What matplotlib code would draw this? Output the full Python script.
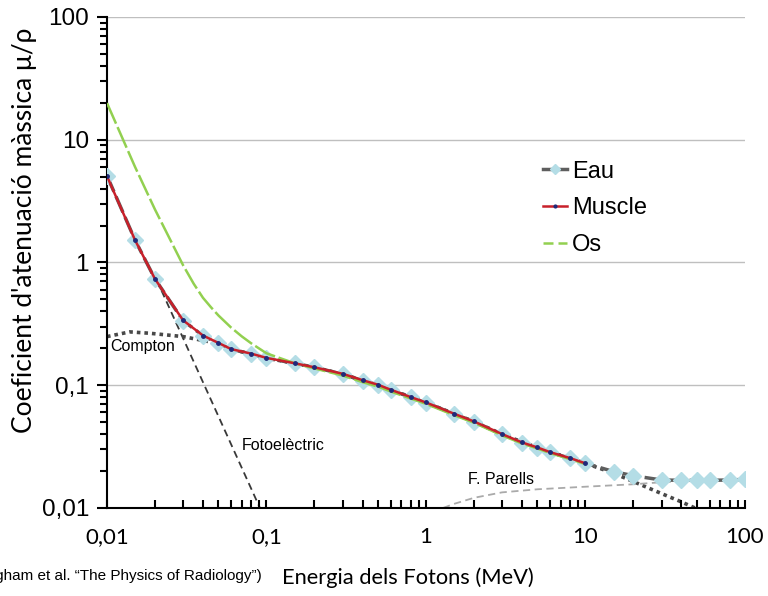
import numpy as np
import matplotlib
matplotlib.use("Agg")
import matplotlib.pyplot as plt
from matplotlib.lines import Line2D

plt.rcParams['font.family'] = ['Liberation Sans', 'DejaVu Sans']

# energies (MeV) of the tabulated points
energia = [0.01, 0.015, 0.02, 0.03, 0.04, 0.05, 0.06, 0.08, 0.1, 0.15, 0.2, 0.3,
           0.4, 0.5, 0.6, 0.8, 1, 1.5, 2, 3, 4, 5, 6, 8, 10, 15, 20, 30, 40,
           50, 60, 80, 100]
eau = [5.09, 1.52, 0.734, 0.336, 0.253, 0.220, 0.196, 0.180, 0.166, 0.151, 0.140,
       0.123, 0.109, 0.1005, 0.0915, 0.0798, 0.0721, 0.0583, 0.0505, 0.0398,
       0.0340, 0.0310, 0.0284, 0.0254, 0.0231, 0.0198, 0.0183, 0.0169, 0.0168,
       0.0168, 0.0168, 0.0169, 0.0171]

energia_muscle = energia[:25]
muscle = [5.05, 1.52, 0.734, 0.338, 0.254, 0.221, 0.197, 0.181, 0.167, 0.151, 0.140,
          0.124, 0.110, 0.101, 0.092, 0.0802, 0.0724, 0.0586, 0.0507, 0.0400,
          0.0342, 0.0311, 0.0285, 0.0255, 0.0231]

energia_os = [0.01, 0.015, 0.02, 0.03, 0.035, 0.04, 0.045, 0.05, 0.06, 0.07, 0.08,
              0.1, 0.15, 0.2, 0.3, 0.4, 0.5, 0.6, 0.8, 1, 1.5, 2, 3, 4, 5, 6, 8, 10]
os_ = [19.9, 6.0, 2.7, 0.95, 0.67, 0.515, 0.43, 0.37, 0.295, 0.25, 0.22,
       0.182, 0.151, 0.137, 0.120, 0.106, 0.0975, 0.089, 0.078, 0.0705, 0.057,
       0.0495, 0.039, 0.0335, 0.0305, 0.028, 0.025, 0.0228]

# individual interaction components
energia_foto = [0.0205, 0.091]
foto = [0.72, 0.01]

energia_compton = [0.01, 0.0139, 0.0186, 0.03, 0.0488, 0.06, 0.08, 0.1, 0.15, 0.2,
                   0.3, 0.5, 1, 2, 3, 5, 10, 15, 20, 30, 40, 48.6]
compton = [0.249, 0.272, 0.265, 0.249, 0.22, 0.196, 0.180, 0.166, 0.151, 0.140,
           0.123, 0.1005, 0.0721, 0.0505, 0.0398, 0.0310, 0.0231, 0.0192, 0.0164,
           0.0131, 0.0112, 0.0100]

energia_parells = [1.28, 1.5, 2, 3, 5, 10, 20, 30, 50]
parells = [0.0100, 0.0108, 0.0121, 0.0134, 0.0142, 0.0149, 0.0156, 0.0162, 0.0167]

xticks = [0.01, 0.1, 1, 10, 100]
xlabels = ['0,01', '0,1', '1', '10', '100']
yticks = [0.01, 0.1, 1, 10, 100]
ylabels = ['0,01', '0,1', '1', '10', '100']

fig = plt.figure(figsize=(7.68, 5.96), dpi=100)
ax = fig.add_axes([0.1393, 0.1477, 0.8307, 0.8238])
ax.set_xscale('log')
ax.set_yscale('log')
ax.set_xlim(0.01, 100)
ax.set_ylim(0.01, 100)

for v in [0.1, 1, 10, 100]:
    ax.axhline(v, color='#bfbfbf', lw=1, zorder=0)

ax.plot(energia_foto, foto, color='#383838', ls=(0, (4, 2.5)), lw=1.3, zorder=1)
ax.plot(energia_compton, compton, color='#484848', ls=(0, (1, 1.1)), lw=2.6, zorder=1)
ax.plot(energia_parells, parells, color='#aaaaaa', ls=(0, (4, 2.5)), lw=1.3, zorder=1)

ax.plot(energia, eau, color='#5e5e5e', ls=(0, (5, 1.5)), lw=2.5, marker='D',
        ms=8, mfc='#b4dde6', mec='#b4dde6', zorder=3)
ax.plot(energia_os, os_, color='#92d050', ls=(0, (9, 1.5)), lw=1.8, zorder=4)
ax.plot(energia_muscle, muscle, color='#c8202a', lw=1.8, marker='o', ms=2.5,
        mfc='#1f2a7a', mec='#1f2a7a', zorder=5)

ax.text(0.01044, 0.205, 'Compton', fontsize=11.5, va='center', zorder=6)
ax.text(0.0699, 0.0322, 'Fotoelèctric', fontsize=11.5, va='center')
ax.text(1.84, 0.0169, 'F. Parells', fontsize=11.5, va='center')

for s in ['top', 'right']:
    ax.spines[s].set_visible(False)
for s in ['left', 'bottom']:
    ax.spines[s].set_linewidth(1.5)
    ax.spines[s].set_color('black')

ax.set_xticks(xticks)
ax.set_xticklabels(xlabels, family='Lato')
ax.set_yticks(yticks)
ax.set_yticklabels(ylabels)
ax.tick_params(axis='x', which='both', direction='in', length=6, width=1.5,
               labelsize=16, pad=14)
ax.tick_params(axis='y', which='major', direction='out', length=7, width=1.5,
               labelsize=17.5, pad=6)
ax.tick_params(axis='y', which='minor', direction='out', length=5, width=1.5)

ax.set_xlabel('Energia dels Fotons (MeV)', family='Lato', fontsize=15.75)
ax.xaxis.set_label_coords(0.472, -0.122)
ax.set_ylabel("Coeficient d'atenuació màssica μ/ρ", family='Lato', fontsize=19)
ax.yaxis.set_label_coords(-0.11, 0.566)

handles = [
    Line2D([], [], color='#5e5e5e', lw=2.5, marker='D', ms=6, mfc='#b4dde6',
           mec='#b4dde6'),
    Line2D([], [], color='#c8202a', lw=1.8, marker='o', ms=2.5, mfc='#1f2a7a',
           mec='#1f2a7a'),
    Line2D([], [], color='#92d050', ls=(0, (4, 2)), lw=1.8),
]
fig.legend(handles, ['Eau', 'Muscle', 'Os'], loc='upper left',
           bbox_to_anchor=(0.68, 0.766), frameon=False, fontsize=17,
           handlelength=1.0, handletextpad=0.2, labelspacing=0.62,
           markerscale=0.8)

# source note, running off the left edge
fig.text(262 / 768, 1 - 576 / 596,
         "(Johns i Cunningham et al. \u201cThe Physics of Radiology\u201d)",
         ha='right', va='center', fontsize=11)

fig.savefig('out.png', dpi=100)
